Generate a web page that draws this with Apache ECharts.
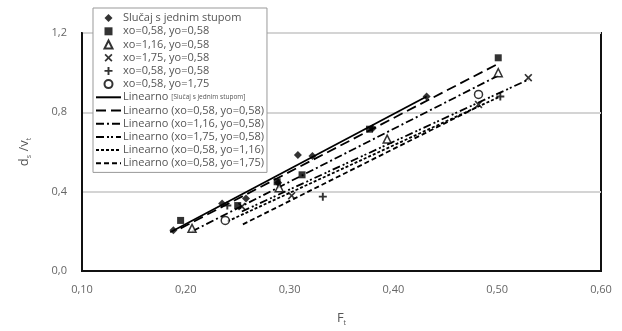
<!DOCTYPE html>
<html><head><meta charset="utf-8">
<script src="https://cdn.jsdelivr.net/npm/echarts@6/dist/echarts.min.js"></script>
<style>html,body{margin:0;padding:0;background:#fff}#c{width:622px;height:331px}</style>
</head><body><div id="c"></div>
<script>
// Data (F_t, d_s/v_t)
const namesPts = ['Slučaj s jednim stupom','xo=0,58, yo=0,58','xo=1,16, yo=0,58','xo=1,75, yo=0,58','xo=0,58, yo=0,58 ','xo=0,58, yo=1,75'];
const ptsSingle = [[0.188,0.205],[0.235,0.34],[0.258,0.365],[0.289,0.445],[0.308,0.585],[0.322,0.58],[0.380,0.72],[0.432,0.88]];
const ptsSq = [[0.195,0.255],[0.250,0.33],[0.288,0.45],[0.312,0.485],[0.377,0.715],[0.501,1.075]];
const ptsTri = [[0.206,0.215],[0.290,0.42],[0.394,0.665],[0.501,1.0]];
const ptsX = [[0.254,0.325],[0.302,0.38],[0.482,0.84],[0.530,0.975]];
const ptsPlus = [[0.240,0.33],[0.332,0.375],[0.503,0.88]];
const ptsCirc = [[0.238,0.255],[0.482,0.89]];
const namesLin = ['Linearno (Slučaj s jednim stupom)','Linearno (xo=0,58, yo=0,58)','Linearno (xo=1,16, yo=0,58)','Linearno (xo=1,75, yo=0,58)','Linearno (xo=0,58, yo=1,16)','Linearno (xo=0,58, yo=1,75)'];
const linSingle = [[0.185,0.195],[0.432,0.88]];
const linSq = [[0.195,0.215],[0.501,1.045]];
const linTri = [[0.206,0.20],[0.501,0.985]];
const linX = [[0.254,0.30],[0.530,0.965]];
const linPlus = [[0.240,0.25],[0.503,0.88]];
const linCirc = [[0.255,0.235],[0.482,0.83]];
const xTicks = [0.10,0.20,0.30,0.40,0.50,0.60];
const yTicks = [0.0,0.4,0.8,1.2];

const X_PATH = 'path://M0,1.5L1.5,0L5,3.5L8.5,0L10,1.5L6.5,5L10,8.5L8.5,10L5,6.5L1.5,10L0,8.5L3.5,5Z';
const PLUS_PATH = 'path://M3.8,0H6.2V3.8H10V6.2H6.2V10H3.8V6.2H0V3.8H3.8Z';
const DIAM_PATH = 'path://M5,0L10,5L5,10L0,5Z';
const RECT_PATH = 'path://M0,0H10V10H0Z';
const TRI_PATH = 'path://M5,0L10,10H0Z';
const CIRC_PATH = 'path://M5,0A5,5 0 1 1 5,10A5,5 0 1 1 5,0Z';
const ptSets = [ptsSingle, ptsSq, ptsTri, ptsX, ptsPlus, ptsCirc];
const ptSym = ['diamond','rect','triangle',X_PATH,PLUS_PATH,'circle'];
const legSym = [DIAM_PATH, RECT_PATH, TRI_PATH, X_PATH, PLUS_PATH, CIRC_PATH];
const ptSize = [8,7,8,8,8,8];
const ptFill = ['#000','#000','#fff','#000','#000','#fff'];
const linSets = [linSingle, linSq, linTri, linX, linPlus, linCirc];
const linDash = ['solid',[10,5],[8,3,2,3],[8,3,2,2,2,3],[3,2],[5,3]];

const series = [];
ptSets.forEach((d,i)=>series.push({
  name: namesPts[i], type:'scatter', data:d, symbol:ptSym[i], symbolSize:ptSize[i],
  itemStyle:{color:ptFill[i], borderColor:'#000', borderWidth:(ptFill[i]==='#fff')?1.5:0}, z:5
}));
linSets.forEach((d,i)=>series.push({
  name: namesLin[i], type:'line', data:d, symbol:'none', silent:true,
  itemStyle:{color:'rgba(0,0,0,0)', borderWidth:0},
  lineStyle:{color:'#000', width:1.8, type:linDash[i]}, z:4
}));

const legendData = namesPts.map((n,i)=>({name:n, icon:legSym[i]})).concat(namesLin.map(n=>({name:n})));

const chart = echarts.init(document.getElementById('c'), null, {renderer:'canvas'});
chart.setOption({
  animation:false,
  backgroundColor:'#fff',
  grid:{left:82, right:21, top:33, bottom:58, show:true, borderColor:'#111', borderWidth:2, backgroundColor:'transparent'},
  xAxis:{type:'value', min:xTicks[0], max:xTicks[xTicks.length-1], interval:0.1,
    name:'F{s|t}', nameLocation:'middle', nameGap:40,
    nameTextStyle:{color:'#555', fontSize:13, fontFamily:'Open Sans', rich:{s:{fontSize:7, color:'#555', verticalAlign:'bottom', padding:[8,0,0,0]}}},
    axisLine:{show:true, lineStyle:{color:'#111', width:2}}, axisTick:{show:false},
    axisLabel:{color:'#666', fontSize:11, fontFamily:'Open Sans', margin:13, formatter:v=>v.toFixed(2).replace('.',',')},
    splitLine:{show:false}},
  yAxis:{type:'value', min:yTicks[0], max:yTicks[yTicks.length-1], interval:0.4,
    name:'d{s|s} /v{s|t}', nameLocation:'middle', nameGap:50, nameRotate:90,
    nameTextStyle:{color:'#555', fontSize:13, fontFamily:'Open Sans', rich:{s:{fontSize:7, color:'#555', padding:[8,0,0,0]}}},
    axisLine:{show:true, lineStyle:{color:'#111', width:2}}, axisTick:{show:false},
    axisLabel:{color:'#666', fontSize:11, fontFamily:'Open Sans', margin:15, formatter:v=>v.toFixed(1).replace('.',',')},
    splitLine:{show:true, lineStyle:{color:'#d4d4d4', width:2}}},
  legend:{orient:'vertical', left:93, top:8, padding:[4,3,3,2], itemGap:1, itemWidth:25, itemHeight:8,
    symbolKeepAspect:true,
    backgroundColor:'#fff', borderColor:'#999', borderWidth:1,
    data: legendData,
    textStyle:{color:'#555', fontSize:11, fontFamily:'Open Sans', lineHeight:12.2, padding:[0,0,0,-3],
      rich:{a:{fontSize:11, color:'#555', fontFamily:'Open Sans'}, b:{fontSize:6.5, color:'#555', fontFamily:'Open Sans'}, c:{fontSize:11, color:'#555', fontFamily:'Open Sans'}}},
    formatter: n => {
      if (n === namesLin[0]) return '{a|Linearno }{b|[Slučaj s jednim stupom]}';
      if (n.startsWith('Linearno')) return '{a|Linearno }{c|' + n.slice(9) + '}';
      return n.trim();
    }
  },
  series: series
});
</script></body></html>
